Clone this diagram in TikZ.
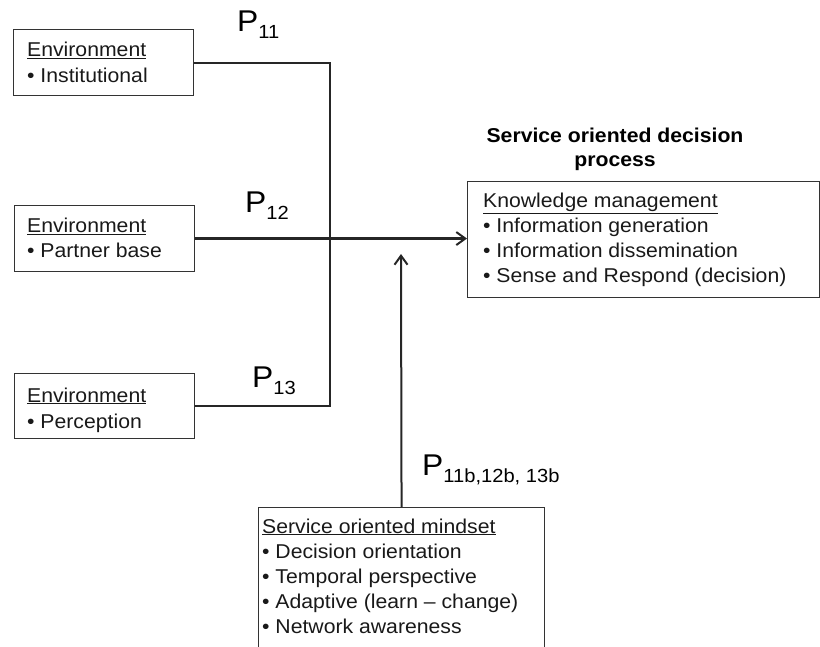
\documentclass[tikz,border=0pt]{standalone}
\usepackage{fontspec}
\setmainfont[FakeStretch=1.06]{Liberation Sans}
\usetikzlibrary{arrows.meta}
\newcommand\plabel[1]{{\fontsize{30}{30}\selectfont P}\raisebox{-7pt}{\fontsize{19}{19}\selectfont #1}}
\begin{document}
\begin{tikzpicture}[x=1pt,y=-1pt,
  box/.style={draw=black!80, line width=1.1pt, anchor=north west, inner sep=0pt, rectangle},
  txt/.style={anchor=base west, inner sep=0pt, font=\fontsize{20}{25}\selectfont, text=black!90},
  ttl/.style={anchor=base, inner sep=0pt, font=\bfseries\fontsize{20}{25}\selectfont},
  plab/.style={anchor=base west, inner sep=0pt},
  conn/.style={line width=2pt, draw=black!85},
  tip/.style={-{Straight Barb[length=9pt,width=13pt,line width=2pt]}}]
\useasboundingbox (0,0) rectangle (820,647);

% Environment boxes
\node[box, minimum width=180pt, minimum height=66pt] (b1) at (13,29) {};
\node[txt] (b1a) at (27,57) {\underline{Environment}};
\node[txt] (b1b) at (27,83) {• Institutional};

\node[box, minimum width=180pt, minimum height=66pt] (b2) at (14,205) {};
\node[txt] (b2a) at (27,233) {\underline{Environment}};
\node[txt] (b2b) at (27,258) {• Partner base};

\node[box, minimum width=180pt, minimum height=65pt] (b3) at (14,373) {};
\node[txt] (b3a) at (27,402) {\underline{Environment}};
\node[txt] (b3b) at (27,428) {• Perception};

% Knowledge management box
\node[ttl] (t1) at (615,143) {Service oriented decision};
\node[ttl] (t2) at (615,167) {process};
\node[box, minimum width=352pt, minimum height=116pt] (km) at (467,181) {};
\node[txt] (km1) at (483,208) {\underline{Knowledge management}};
\node[txt] (km2) at (483,233) {• Information generation};
\node[txt] (km3) at (483,258) {• Information dissemination};
\node[txt] (km4) at (483,283) {• Sense and Respond (decision)};

% Mindset box
\node[box, minimum width=286pt, minimum height=145pt] (ms) at (258,507) {};
\node[txt] (ms1) at (262,533) {\underline{Service oriented mindset}};
\node[txt] (ms2) at (262,558) {• Decision orientation};
\node[txt] (ms3) at (262,583) {• Temporal perspective};
\node[txt] (ms4) at (262,608) {• Adaptive (learn – change)};
\node[txt] (ms5) at (262,633) {• Network awareness};

% P labels
\node[plab] (p11) at (237,32) {\plabel{11}};
\node[plab] (p12) at (245,213) {\plabel{12}};
\node[plab] (p13) at (252,387) {\plabel{13}};
\node[plab] (p11b) at (422,475) {\plabel{11b,12b, 13b}};

% connectors
\coordinate (jx) at (330,200);
\coordinate (vt) at (401,254);
\draw[conn] (b1.east) -| (jx) |- (b3.east);
\draw[conn, line width=2.6pt, tip] (b2.east) -- (b2.east -| km.west);
\draw[conn, line width=2pt, tip] (ms.north) -- (vt);
\end{tikzpicture}
\end{document}
